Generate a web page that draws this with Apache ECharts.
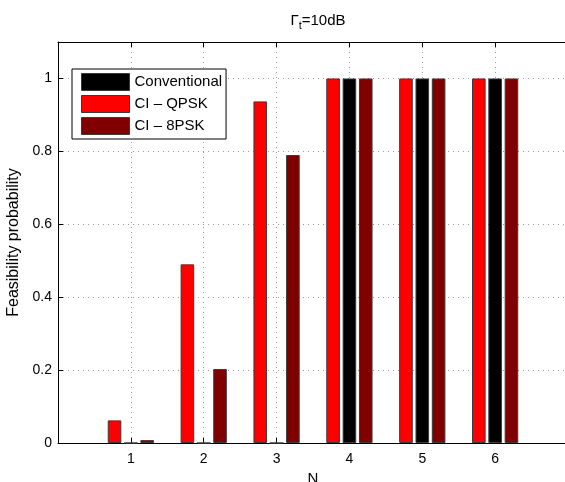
<!DOCTYPE html>
<html>
<head>
<meta charset="utf-8">
<script src="https://cdn.jsdelivr.net/npm/echarts@6/dist/echarts.min.js"></script>
<style>
  html, body { margin: 0; padding: 0; background: #fff; }
  #main { width: 565px; height: 482px; }
</style>
</head>
<body>
<div id="main"></div>
<script>
// N values on the x axis
const N = [1, 2, 3, 4, 5, 6];
// feasibility probability per scheme
const conventional = [0, 0, 0, 1, 1, 1];
const ciQpsk = [0.062, 0.49, 0.937, 1, 1, 1];
const ci8psk = [0.008, 0.203, 0.79, 1, 1, 1];
const yTicks = [0, 0.2, 0.4, 0.6, 0.8, 1];

const font = 'Liberation Sans, Arial, sans-serif';

function pairs(vals) {
  return N.map((n, i) => [n, vals[i]]);
}

const chart = echarts.init(document.getElementById('main'));

const barStyle = (c) => ({ color: c, borderColor: '#3a3a3a', borderWidth: 1 });

chart.setOption({
  animation: false,
  backgroundColor: '#fff',
  textStyle: { fontFamily: font },
  title: {
    text: '{a|Γ}{s|t}{a|=10dB}',
    left: 313,
    textAlign: 'center',
    top: 6,
    textStyle: {
      rich: {
        a: { fontFamily: font, fontSize: 15, fontWeight: 'normal', color: '#000' },
        s: { fontFamily: font, fontSize: 11, fontWeight: 'normal', color: '#000', verticalAlign: 'bottom', padding: [9, 0, 0, 0] }
      }
    }
  },
  legend: {
    left: 72,
    top: 69,
    orient: 'vertical',
    data: ['Conventional', 'CI – QPSK', 'CI – 8PSK'],
    itemWidth: 48,
    itemHeight: 17,
    itemGap: 4,
    padding: [4, 4, 4, 9],
    borderColor: '#000',
    borderWidth: 1,
    backgroundColor: '#fff',
    icon: 'rect',
    textStyle: { fontFamily: font, fontSize: 15, color: '#000' },
    itemStyle: { borderColor: '#3a3a3a', borderWidth: 1 }
  },
  grid: { left: 58, top: 42, width: 510, height: 401, outerBoundsMode: 'none', containLabel: false },
  xAxis: [{
    type: 'value',
    min: 0,
    max: 7,
    interval: 1,
    name: 'N',
    nameLocation: 'middle',
    nameGap: 27,
    nameTextStyle: { fontFamily: font, fontSize: 15, color: '#000' },
    axisLine: { show: true, lineStyle: { color: '#000', width: 1 } },
    axisTick: { show: true, inside: true, length: 5, lineStyle: { color: '#000' } },
    axisLabel: {
      fontFamily: font, fontSize: 14, color: '#000', margin: 9,
      formatter: (v) => (N.indexOf(v) >= 0 ? String(v) : '')
    },
    splitLine: { show: true, lineStyle: { color: '#999', type: [1, 4], width: 1 } }
  }, {
    type: 'value',
    position: 'top',
    min: 0,
    max: 7,
    interval: 1,
    axisLine: { show: true, lineStyle: { color: '#000', width: 1 } },
    axisTick: { show: true, inside: true, length: 5, lineStyle: { color: '#000' } },
    axisLabel: { show: false },
    splitLine: { show: false }
  }],
  yAxis: {
    type: 'value',
    min: 0,
    max: 1.1,
    interval: 0.2,
    name: 'Feasibility probability',
    nameLocation: 'middle',
    nameGap: 30,
    nameTextStyle: { fontFamily: font, fontSize: 16, color: '#000' },
    axisLine: { show: true, lineStyle: { color: '#000', width: 1 } },
    axisTick: { show: true, inside: true, length: 5, lineStyle: { color: '#000' } },
    axisLabel: {
      fontFamily: font, fontSize: 14, color: '#000', margin: 6,
      showMaxLabel: false,
      formatter: (v) => {
        const t = yTicks.find((y) => Math.abs(y - v) < 1e-6);
        return t === undefined ? '' : String(t);
      }
    },
    splitLine: { show: true, lineStyle: { color: '#999', type: [1, 4], width: 1 } }
  },
  series: [
    { name: 'CI – QPSK', type: 'bar', data: pairs(ciQpsk), barWidth: 13.6, barGap: '20%', itemStyle: barStyle('#ff0000') },
    { name: 'Conventional', type: 'bar', data: pairs(conventional), barWidth: 13.6, barGap: '20%', itemStyle: barStyle('#000000') },
    { name: 'CI – 8PSK', type: 'bar', data: pairs(ci8psk), barWidth: 13.6, barGap: '20%', itemStyle: barStyle('#800000') }
  ]
});
</script>
</body>
</html>
